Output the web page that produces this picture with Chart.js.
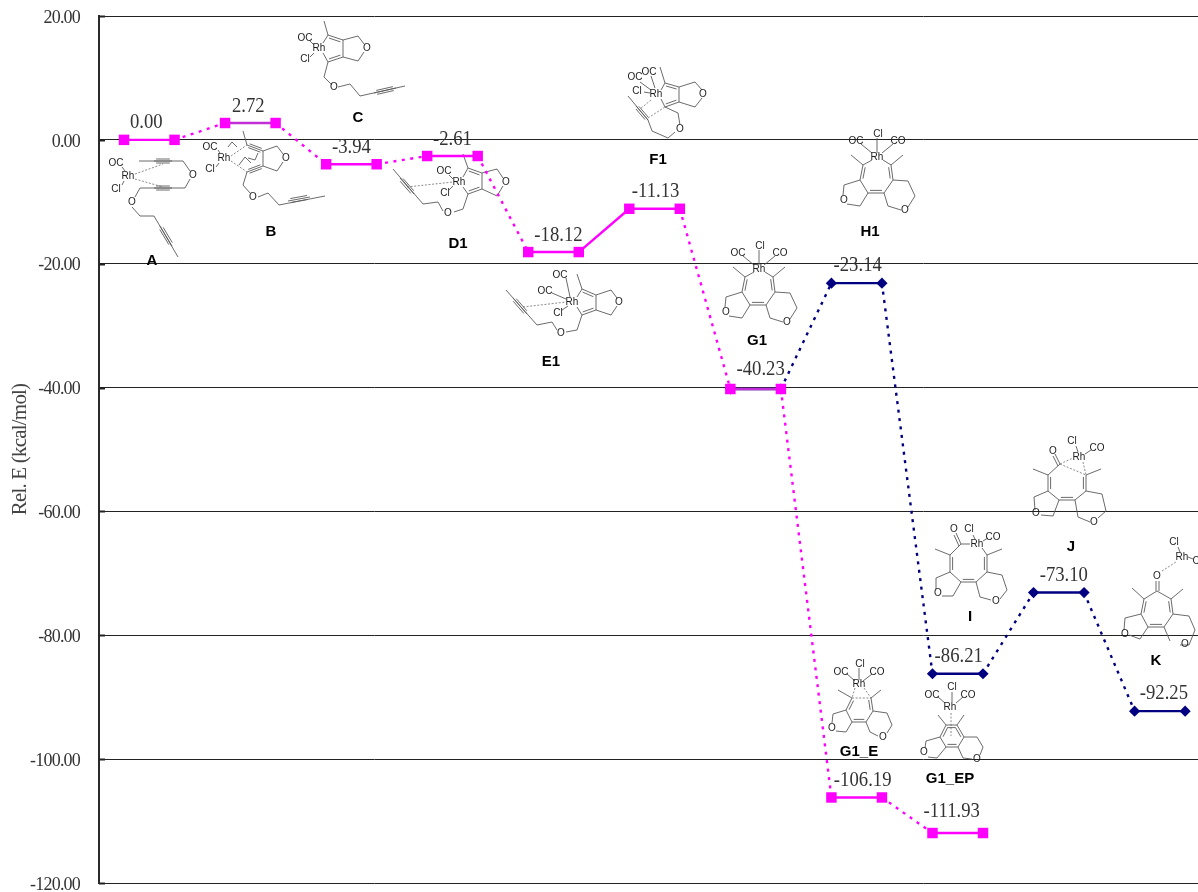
<!DOCTYPE html>
<html>
<head>
<meta charset="utf-8">
<title>Rel. E profile</title>
<script src="https://cdn.jsdelivr.net/npm/chart.js@4"></script>
<style>
  html, body { margin: 0; padding: 0; background: #fff; overflow: hidden; }
  canvas { display: block; }
</style>
</head>
<body>
<canvas id="energyChart" width="1198" height="892"></canvas>
<script>
// slots along the reaction coordinate, every level takes two of them
const slots = [0, 1, 2, 3, 4, 5, 6, 7, 8, 9, 10, 11, 12, 13, 14, 15, 16, 17, 18, 19, 20, 21];
const magentaValues = [0.00, 0.00, 2.72, 2.72, -3.94, -3.94, -2.61, -2.61, -18.12, -18.12, -11.13, -11.13,
  -40.23, -40.23, -106.19, -106.19, -111.93, -111.93, null, null, null, null];
const navyValues = [null, null, null, null, null, null, null, null, null, null, null, null,
  -40.23, -40.23, -23.14, -23.14, -86.21, -86.21, -73.10, -73.10, -92.25, -92.25];
const yMin = -120;
const yMax = 20;
const yStep = 20;
const yTitle = 'Rel. E (kcal/mol)';

// which slots get a value label, navy skips the shared G1 level
const magentaLabelSlots = [0, 2, 4, 6, 8, 10, 12, 14, 16];
const navyLabelSlots = [14, 16, 18, 20];

// labels were dragged by hand in the original, [dx, dy] from the centre of the level
const magentaLabelShift = [[-3, 0], [-2, 0], [0, 0], [0, 0], [5, 0], [1, 0], [5, -2], [6, 0], [-6, -5]];
const navyLabelShift = [[1, -1], [1, 0], [5, 0], [4, -1]];

const MAGENTA = '#ff00ff';
const NAVY = '#000080';
const PURPLE = '#c22ed6';

function points(values) {
  return slots.map((x, i) => ({ x: x, y: values[i] }));
}

// solid for the level itself, dotted for the link between levels
function linkDash(solidLinks) {
  return ctx => {
    const i = ctx.p0DataIndex;
    return (i % 2 === 0 || solidLinks.includes(i)) ? undefined : [3, 5.5];
  };
}

// ---- structure sketches, in page pixels ----
const sharedRing = {
  lines: [[759,250,759,265], [743,256,754,265], [775,256,764,265], [754,272,745,277], [765,272,773,277],
    [733,267,745,277], [785,267,773,277], [742,292,750,305], [766,305,775,292],
    [742,292,726,297,725,307], [729,316,742,318,750,305],
    [775,292,790,293,797,308,790,319], [783,322,770,318,766,305]],
  doubles: [[745,277,742,292], [750,305,766,305], [775,292,773,277]],
  centre: [759, 290],
  text: [['Cl',760,246], ['OC',738,253], ['CO',780,253], ['Rh',759,269], ['O',726,312], ['O',787,322]]
};

const molecules = [
  { // A
    lines: [[139,161,183,161,190,171], [190,179,185,188,140,188,135,197], [132,207,140,216,154,216,178,257],
      [122,167,125,171], [122,185,124,181]],
    dashed: [[135,174,163,164], [135,179,163,187]],
    triples: [[154,161,172,161], [154,188,172,188], [160,226,172,246]],
    text: [['OC',116,163], ['Rh',128,176], ['Cl',116,189], ['O',193,175], ['O',132,202]]
  },
  { // B
    lines: [[243,131,247,145], [263,151,263,166], [263,151,277,146,283,154], [283,162,277,171,263,166],
      [247,172,243,185,250,193], [258,197,268,193,279,205,325,196], [218,150,220,153], [216,167,219,163],
      [228,147,232,142,237,147], [248,158,255,160,258,153], [239,165,245,157,251,163]],
    dashed: [[231,156,247,145], [231,161,247,172]],
    triples: [[247,145,263,151], [263,166,247,172], [288,201,310,197]],
    text: [['OC',210,147], ['Rh',224,158], ['Cl',210,169], ['O',286,158], ['O',253,197]]
  },
  { // C
    lines: [[324,21,328,35], [343,40,343,57], [343,40,358,36,364,44], [364,52,358,61,343,57],
      [328,62,324,77,332,85], [338,87,350,84,360,96,405,86], [328,35,323,43], [328,62,323,53],
      [310,41,314,45], [310,57,314,53]],
    doubles: [[328,35,343,40], [343,57,328,62]],
    centre: [335, 48],
    triples: [[374,93,396,88]],
    text: [['OC',305,38], ['Rh',319,48], ['Cl',305,59], ['O',367,48], ['O',334,87]]
  },
  { // D1
    lines: [[463,154,468,168], [482,173,482,189], [482,173,497,169,503,178], [503,186,497,196,482,189],
      [468,194,463,209,454,212], [443,211,438,202,423,204,393,169], [468,168,463,177], [468,194,463,187],
      [449,175,453,179], [449,190,453,186]],
    doubles: [[468,168,482,173], [482,189,468,194]],
    centre: [474, 181],
    dashed: [[407,187,453,182]],
    triples: [[400,178,414,194]],
    text: [['OC',444,171], ['Rh',459,182], ['Cl',445,193], ['O',506,182], ['O',448,213]]
  },
  { // E1
    lines: [[577,274,582,289], [596,295,596,310], [596,295,611,290,617,298], [617,306,611,315,596,310],
      [582,315,577,330,566,332], [557,330,552,322,537,325,506,290], [566,278,570,297], [552,293,566,299],
      [562,310,568,306], [582,289,577,297], [582,315,577,307]],
    doubles: [[582,289,596,295], [596,310,582,315]],
    centre: [588, 302],
    dashed: [[523,307,566,302]],
    triples: [[513,298,527,314]],
    text: [['OC',560,275], ['OC',545,291], ['Rh',572,302], ['Cl',558,313], ['O',619,302], ['O',561,333]]
  },
  { // F1
    lines: [[660,67,665,83], [679,102,679,87], [679,87,695,82,702,90], [702,98,695,107,679,102],
      [665,107,678,113,680,125], [675,132,668,138,652,131,648,120,628,96], [640,82,651,90], [651,76,655,88],
      [644,92,650,93], [665,83,661,90], [665,107,661,99]],
    doubles: [[665,83,679,87], [679,102,665,107]],
    centre: [670, 95],
    dashed: [[651,100,640,109], [648,118,665,107]],
    triples: [[636,106,648,120]],
    text: [['OC',635,77], ['OC',649,72], ['Cl',637,91], ['Rh',656,94], ['O',703,94], ['O',680,129]]
  },
  sharedRing, // G1
  Object.assign({ shift: [118, -112] }, sharedRing), // H1
  { // G1_E
    lines: [[859,668,859,680], [847,674,855,681], [872,674,863,681], [838,690,852,698], [881,690,871,698],
      [852,722,846,710], [866,722,873,711], [846,710,833,714,832,723], [836,731,846,732,852,722],
      [873,711,887,713,892,725,887,733], [878,736,870,732,866,722]],
    doubles: [[852,698,846,710], [852,722,866,722], [873,711,871,698]],
    centre: [859, 710],
    dashed: [[852,698,871,698], [855,688,852,698], [864,688,871,698]],
    text: [['Cl',860,664], ['OC',841,672], ['CO',877,672], ['Rh',859,684], ['O',832,728], ['O',883,737]]
  },
  { // G1_EP
    lines: [[952,692,952,702], [938,697,945,703], [963,697,956,703], [938,715,946,725], [964,715,957,725],
      [940,737,946,747], [958,747,964,737], [940,737,926,741,925,748], [928,757,937,758,946,747],
      [964,737,977,737,983,747,980,755], [972,759,963,758,958,747]],
    doubles: [[946,725,957,725], [946,725,940,737], [946,747,958,747], [957,725,964,737]],
    centre: [952, 736],
    dashed: [[951,713,951,736]],
    text: [['Cl',952,687], ['OC',932,695], ['CO',968,695], ['Rh',950,707], ['O',924,752], ['O',977,759]]
  },
  { // I
    lines: [[961,544,970,544], [961,544,950,555], [935,549,950,555], [1002,549,987,555], [982,548,987,555],
      [950,572,961,582], [976,582,987,572], [950,572,936,578,936,589], [942,596,953,596,961,582],
      [987,572,1002,575,1007,590,1000,599], [991,600,980,597,976,582], [973,535,975,539], [983,541,988,538],
      [956,533,961,544], [954,535,959,546]],
    doubles: [[950,555,950,572], [961,582,976,582], [987,572,987,555]],
    centre: [969, 565],
    text: [['O',954,529], ['Cl',969,529], ['CO',993,537], ['Rh',977,544], ['O',938,593], ['O',996,601]]
  },
  { // J
    lines: [[1060,464,1048,475], [1033,469,1048,475], [1101,469,1086,475], [1048,491,1059,500],
      [1075,500,1086,491], [1048,491,1034,497,1035,510], [1041,515,1053,516,1059,500],
      [1086,491,1102,494,1106,511,1098,518], [1090,522,1078,517,1075,500], [1076,446,1078,452], [1085,454,1091,450],
      [1055,454,1060,464], [1053,456,1058,466]],
    doubles: [[1048,475,1048,491], [1059,500,1075,500], [1086,491,1086,475]],
    centre: [1067, 484],
    dashed: [[1060,464,1073,458], [1060,464,1086,475], [1083,462,1086,475]],
    text: [['Cl',1072,441], ['O',1053,451], ['CO',1097,448], ['Rh',1079,457], ['O',1036,513], ['O',1094,522]]
  },
  { // K
    lines: [[1157,591,1144,599], [1157,591,1171,599], [1132,588,1144,599], [1183,589,1171,599],
      [1141,614,1148,627], [1164,627,1173,614], [1141,614,1125,618,1124,630], [1129,635,1140,639,1148,627],
      [1173,614,1189,616,1195,630,1189,645,1180,645], [1170,641,1164,627], [1178,547,1180,552], [1188,557,1193,559],
      [1156,581,1156,591], [1159,581,1159,591]],
    doubles: [[1144,599,1141,614], [1148,627,1164,627], [1173,614,1171,599]],
    centre: [1157, 612],
    dashed: [[1162,571,1176,562]],
    text: [['Cl',1174,542], ['Rh',1182,557], ['CO',1200,561], ['O',1157,576], ['O',1125,634], ['O',1185,644]]
  }
];

const moleculeNames = [['A',152,260], ['B',271,231], ['C',358,117], ['D1',458,243], ['E1',551,361], ['F1',658,159],
  ['G1',757,340], ['H1',870,231], ['G1_E',859,751], ['G1_EP',950,778], ['I',970,616], ['J',1071,546], ['K',1156,660]];

function polyline(ctx, pts) {
  ctx.beginPath();
  ctx.moveTo(pts[0], pts[1]);
  for (let i = 2; i < pts.length; i += 2) ctx.lineTo(pts[i], pts[i + 1]);
  ctx.stroke();
}

function parallel(ctx, s, side, gap) {
  const dx = s[2] - s[0], dy = s[3] - s[1];
  const len = Math.hypot(dx, dy);
  const ox = -dy / len * gap * side, oy = dx / len * gap * side;
  polyline(ctx, [s[0] + dx * 0.12 + ox, s[1] + dy * 0.12 + oy, s[2] - dx * 0.12 + ox, s[3] - dy * 0.12 + oy]);
}

function drawMolecule(ctx, m) {
  ctx.save();
  if (m.shift) ctx.translate(m.shift[0], m.shift[1]);
  ctx.strokeStyle = '#5a5a5a';
  ctx.lineWidth = 0.9;
  (m.lines || []).forEach(l => polyline(ctx, l));
  (m.doubles || []).forEach(d => {
    polyline(ctx, d);
    // second stroke goes to the ring side
    const cross = (d[2] - d[0]) * (m.centre[1] - d[1]) - (d[3] - d[1]) * (m.centre[0] - d[0]);
    parallel(ctx, d, cross > 0 ? 1 : -1, 2.6);
  });
  (m.triples || []).forEach(t => {
    polyline(ctx, t);
    parallel(ctx, t, 1, 2);
    parallel(ctx, t, -1, 2);
  });
  ctx.setLineDash([2, 1.6]);
  ctx.lineWidth = 0.7;
  (m.dashed || []).forEach(l => polyline(ctx, l));
  ctx.setLineDash([]);
  ctx.fillStyle = '#1c1c1c';
  ctx.font = '10px "Liberation Sans"';
  ctx.textAlign = 'center';
  ctx.textBaseline = 'middle';
  (m.text || []).forEach(t => ctx.fillText(t[0], t[1], t[2]));
  ctx.restore();
}

const moleculePlugin = {
  id: 'molecules',
  beforeDatasetsDraw(chart) {
    const ctx = chart.ctx;
    ctx.save();
    ctx.letterSpacing = '0px';
    molecules.forEach(m => drawMolecule(ctx, m));
    ctx.fillStyle = '#000';
    ctx.font = 'bold 15px "Liberation Sans"';
    ctx.textAlign = 'center';
    ctx.textBaseline = 'alphabetic';
    moleculeNames.forEach(n => ctx.fillText(n[0], n[1], n[2] + 5));
    ctx.restore();
  }
};

// value labels above each level, squeezed like the narrow original face
function drawLevelLabels(chart, datasetIndex, labelSlots, shifts, values) {
  const ctx = chart.ctx;
  const meta = chart.getDatasetMeta(datasetIndex);
  labelSlots.forEach((slot, i) => {
    const a = meta.data[slot], b = meta.data[slot + 1];
    const text = values[slot].toFixed(2);
    const w = ctx.measureText(text).width;
    ctx.fillText(text, (a.x + b.x) / 2 + shifts[i][0], a.y - 11.5 + shifts[i][1], w * 0.89);
  });
}

const levelLabelPlugin = {
  id: 'levelLabels',
  afterDatasetsDraw(chart) {
    const ctx = chart.ctx;
    ctx.save();
    ctx.letterSpacing = '0px';
    ctx.fillStyle = '#333';
    ctx.font = '21px "Liberation Serif"';
    ctx.textAlign = 'center';
    ctx.textBaseline = 'alphabetic';
    drawLevelLabels(chart, 0, magentaLabelSlots, magentaLabelShift, magentaValues);
    drawLevelLabels(chart, 1, navyLabelSlots, navyLabelShift, navyValues);
    ctx.restore();
  }
};

const axisPlugin = {
  id: 'axisTweaks',
  beforeDraw(chart) {
    chart.ctx.letterSpacing = '-0.8px';
  },
  beforeDatasetsDraw(chart) {
    // short inward ticks on the left axis
    const ctx = chart.ctx;
    const scale = chart.scales.y;
    ctx.save();
    ctx.strokeStyle = '#222';
    ctx.lineWidth = 2;
    scale.ticks.forEach(t => {
      const y = Math.round(scale.getPixelForValue(t.value)) + 0.5;
      ctx.beginPath();
      ctx.moveTo(chart.chartArea.left, y);
      ctx.lineTo(chart.chartArea.left + 6, y);
      ctx.stroke();
    });
    ctx.restore();
  }
};

const purpleLevels = [2, 12];

new Chart(document.getElementById('energyChart'), {
  type: 'line',
  data: {
    datasets: [
      {
        label: 'Path 1',
        data: points(magentaValues),
        borderColor: MAGENTA,
        backgroundColor: MAGENTA,
        borderWidth: 2.4,
        pointStyle: 'rect',
        pointRadius: 7.4,
        pointHoverRadius: 7.4,
        pointBackgroundColor: MAGENTA,
        pointBorderColor: MAGENTA,
        pointBorderWidth: 0,
        tension: 0,
        spanGaps: false,
        segment: {
          borderDash: linkDash([9]),
          borderColor: ctx => purpleLevels.includes(ctx.p0DataIndex) ? PURPLE : undefined
        }
      },
      {
        label: 'Path 2',
        data: points(navyValues),
        borderColor: NAVY,
        backgroundColor: NAVY,
        borderWidth: 2.4,
        pointStyle: 'rectRot',
        pointRadius: 5.6,
        pointHoverRadius: 5.6,
        pointBackgroundColor: NAVY,
        pointBorderColor: NAVY,
        pointBorderWidth: 0,
        tension: 0,
        spanGaps: false,
        segment: { borderDash: linkDash([]) }
      }
    ]
  },
  options: {
    responsive: false,
    animation: false,
    layout: { autoPadding: false, padding: { top: 16, bottom: 9, left: 0, right: 0 } },
    plugins: {
      legend: { display: false },
      tooltip: { enabled: false }
    },
    scales: {
      x: {
        type: 'linear',
        display: false,
        min: -0.495,
        max: 21.255
      },
      y: {
        min: yMin,
        max: yMax,
        afterFit(scale) {
          scale.width = 99;
          scale.paddingTop = 0;
          scale.paddingBottom = 0;
        },
        border: { display: true, color: '#2a2a2a', width: 2 },
        grid: {
          color: '#222',
          lineWidth: 1,
          drawTicks: false
        },
        title: {
          display: true,
          text: yTitle,
          color: '#444',
          font: { family: '"Liberation Serif"', size: 21 },
          padding: { top: 8, bottom: 0 }
        },
        ticks: {
          stepSize: yStep,
          color: '#333',
          padding: 19,
          labelOffset: 2,
          font: { family: '"Liberation Serif"', size: 18 },
          callback: v => v.toFixed(2)
        }
      }
    }
  },
  plugins: [axisPlugin, moleculePlugin, levelLabelPlugin]
});
</script>
</body>
</html>
